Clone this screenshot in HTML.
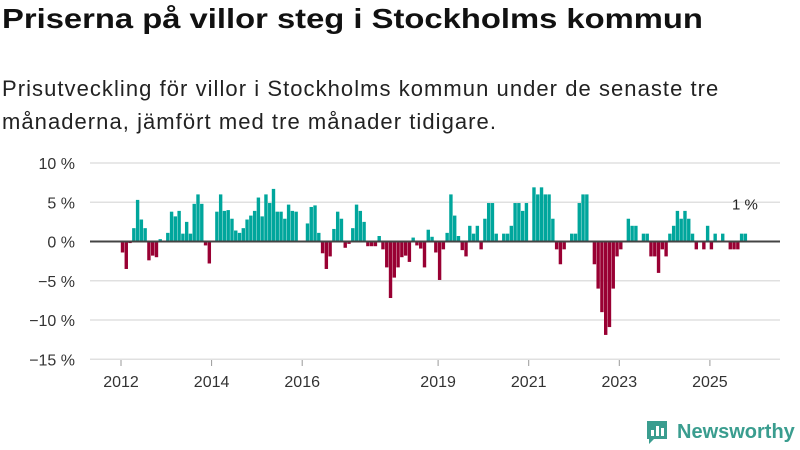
<!DOCTYPE html>
<html><head><meta charset="utf-8"><style>
body{margin:0;width:800px;height:450px;background:#fff;overflow:hidden;font-family:"Liberation Sans",sans-serif;}
#title{position:absolute;left:2px;top:3px;font-size:28px;font-weight:bold;color:#111;margin:0;transform:scaleX(1.17);transform-origin:left top;white-space:nowrap}
#sub{position:absolute;left:2px;top:72px;font-size:22px;line-height:33px;color:#222;width:790px;letter-spacing:1.05px;white-space:nowrap}
svg{position:absolute;left:0;top:0}
#logo{position:absolute;left:645px;top:419px;display:flex;align-items:center}
</style></head><body>
<h1 id="title">Priserna på villor steg i Stockholms kommun</h1>
<div id="sub">Prisutveckling för villor i Stockholms kommun under de senaste tre<br>månaderna, jämfört med tre månader tidigare.</div>
<svg id="chart" width="800" height="450"></svg>
<div id="logo">
<svg width="24" height="26" style="position:static"><path d="M2 2h20v18H9l-5 5v-5H2z" fill="#3a9d8f"/><rect x="6" y="11" width="3" height="6" fill="#fff"/><rect x="11" y="7" width="3" height="10" fill="#fff"/><rect x="16" y="9" width="3" height="8" fill="#fff"/></svg>
<span style="font-size:20px;font-weight:bold;color:#3a9d8f;margin-left:8px">Newsworthy</span>
</div>
<script>
const startYear = 2012;
const values = [-1.4,-3.5,-0.2,1.7,5.3,2.8,1.7,-2.4,-1.8,-2.0,0.3,0,1.1,3.8,3.2,3.9,1.0,2.5,1.0,4.8,6.0,4.8,-0.5,-2.8,0,3.8,6.0,3.9,4.0,2.9,1.4,1.1,1.7,2.8,3.3,3.9,5.6,3.2,6.0,4.9,6.7,3.8,3.8,
2.9,4.7,3.9,3.8,0,0,2.3,4.4,4.6,1.1,-1.5,-3.5,-1.9,1.6,3.8,2.9,-0.8,-0.3,1.7,4.7,3.9,2.5,-0.6,-0.6,-0.6,0.7,-1.0,-3.3,-7.2,-4.6,-3.3,-2.0,-1.8,-2.6,0.5,-0.5,-0.9,-3.3,1.5,0.6,-1.4,-4.9,
-1.0,1.1,6.0,3.3,0.7,-1.1,-1.9,2.0,1.0,2.0,-1.0,2.9,4.9,4.9,1.0,0,1.0,1.0,2.0,4.9,4.9,3.9,4.9,0,6.9,6.0,6.9,6.0,6.0,2.9,-1.0,-2.9,-1.0,0,1.0,1.0,4.9,6.0,6.0,0,-2.9,-6.0,
-9.0,-11.9,-10.9,-6.0,-1.9,-1.0,0,2.9,2.0,2.0,0,1.0,1.0,-1.9,-1.9,-4.0,-1.0,-1.9,1.0,2.0,3.9,2.9,3.9,2.9,1.0,-1.0,0,-1.0,2.0,-1.0,1.0,0,1.0,0,-1.0,-1.0,-1.0,1.0,1.0];
const yTicks = [10,5,0,-5,-10,-15];
const yTickLabels = ["10 %","5 %","0 %","−5 %","−10 %","−15 %"];
const xTicks = [2012,2014,2016,2019,2021,2023,2025];
const lastLabel = "1 %";
const NS="http://www.w3.org/2000/svg";
const svg=document.getElementById('chart');
const x=t=>121+(t-2012)*45.3;
const y=v=>241.5-v*7.85;
function mk(tag,attrs){const e=document.createElementNS(NS,tag);for(const k in attrs)e.setAttribute(k,attrs[k]);svg.appendChild(e);return e;}
yTicks.forEach((t,i)=>{
  if(t!==0){const g=mk('line',{x1:90,x2:780,y1:y(t),y2:y(t),stroke:'#e0e0e0','stroke-width':1.5});
  
  }
  const l=mk('text',{x:75,y:y(t)+6,'text-anchor':'end','font-size':16,fill:'#333','font-family':'Liberation Sans, sans-serif'});
  l.textContent=yTickLabels[i];
  
  
});
xTicks.forEach(t=>{
  const l=mk('text',{x:x(t),y:387,'text-anchor':'middle','font-size':16,fill:'#333','font-family':'Liberation Sans, sans-serif'});
  l.textContent=String(t);
  
  
  const tk=mk('line',{x1:x(t),x2:x(t),y1:360,y2:366,stroke:'#999'});
  
  
});
values.forEach((v,i)=>{
  const t=startYear+i/12;
  const cx=x(t)+1.5;
  const top=Math.min(y(v),y(0)), h=Math.abs(y(v)-y(0));
  const b=mk('rect',{x:cx-1.7,y:top,width:3.4,height:h,fill:v>=0?'#00a69c':'#990033'});
  
  
});
const z=mk('line',{x1:90,x2:780,y1:y(0),y2:y(0),stroke:'#444','stroke-width':2});


const lv=values[values.length-1];
const lab=mk('text',{x:x(startYear+(values.length-1)/12)+1,y:y(lv)-24,'text-anchor':'middle','font-size':15,fill:'#222','font-family':'Liberation Sans, sans-serif'});
lab.textContent=lastLabel;


</script>
</body></html>
